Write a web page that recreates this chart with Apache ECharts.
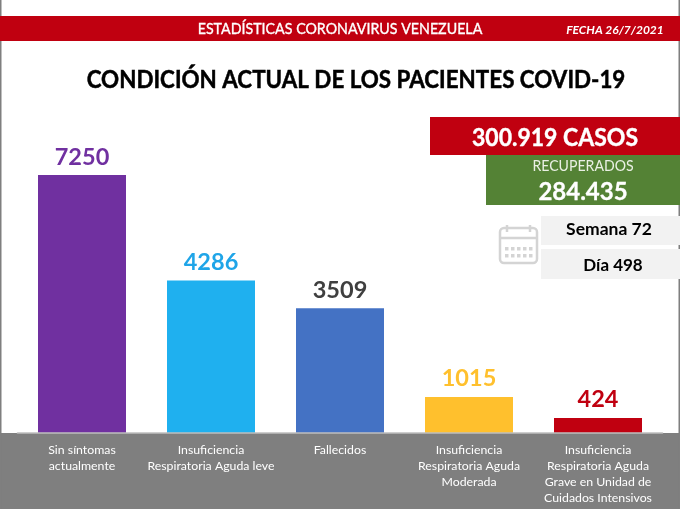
<!DOCTYPE html>
<html lang="es">
<head>
    <meta charset="UTF-8">
    <title>Condición actual de los pacientes COVID-19</title>
    <style>
      html, body { margin: 0; padding: 0; background: #fff; }
      #chart { width: 680px; height: 509px; }
    </style>
    <script src="https://cdn.jsdelivr.net/npm/echarts@6/dist/echarts.min.js"></script>
</head>
<body>
<div id="chart"></div>
<script>
  var categories = [
    'Sin síntomas\nactualmente',
    'Insuficiencia\nRespiratoria Aguda leve',
    'Fallecidos',
    'Insuficiencia\nRespiratoria Aguda\nModerada',
    'Insuficiencia\nRespiratoria Aguda\nGrave en Unidad de\nCuidados Intensivos'
  ];
  var patients = [7250, 4286, 3509, 1015, 424];

  var barColors = ['#7030a0', '#1fb0ef', '#4472c4', '#ffc02d', '#c00010'];
  var labelColors = ['#7030a0', '#1fa5e8', '#3f3f3f', '#ffc02d', '#c00010'];
  var FONT = 'Lato';

  var chart = echarts.init(document.getElementById('chart'));

  function box(x, y, w, h, color) {
    return { type: 'rect', z: -1, shape: { x: x, y: y, width: w, height: h }, style: { fill: color } };
  }
  // sx estrecha el texto, la fuente original es mas angosta
  function text(str, x, y, size, color, sx, weight, italic, stroke) {
    return {
      type: 'text', z: 5,
      x: x, y: y, scaleX: sx || 1,
      style: {
        text: str, x: 0, y: 0, fill: color, fontFamily: FONT, fontSize: size,
        fontWeight: weight || 'bold', fontStyle: italic ? 'italic' : 'normal',
        align: 'center', verticalAlign: 'middle',
        stroke: stroke ? color : null, lineWidth: stroke || 0
      }
    };
  }

  // icono del calendario
  var cal = '#d4d4d4';
  var calendar = [
    { type: 'rect', z: 2, shape: { x: 500, y: 228, width: 37, height: 35, r: 4 }, style: { fill: '#fff', stroke: cal, lineWidth: 2.5 } },
    { type: 'line', z: 2, shape: { x1: 500, y1: 238, x2: 537, y2: 238 }, style: { stroke: cal, lineWidth: 2.5 } },
    { type: 'line', z: 2, shape: { x1: 507, y1: 225, x2: 507, y2: 232 }, style: { stroke: cal, lineWidth: 2.5 } },
    { type: 'line', z: 2, shape: { x1: 530, y1: 225, x2: 530, y2: 232 }, style: { stroke: cal, lineWidth: 2.5 } }
  ];
  [505, 511, 517, 523, 529].forEach(function (x) {
    [247, 254].forEach(function (y) {
      var dot = box(x, y, 3.5, 3.5, cal);
      dot.z = 3;
      calendar.push(dot);
    });
  });

  var option = {
    animation: false,
    backgroundColor: '#fff',
    grid: { left: 17.5, width: 645, top: 175, height: 258 },
    xAxis: {
      type: 'category',
      z: 10,
      data: categories,
      axisTick: { show: false },
      axisLine: { lineStyle: { color: '#bfbfbf', width: 1.5 } },
      axisLabel: {
        interval: 0,
        color: '#ffffff',
        fontFamily: FONT,
        fontSize: 12.3,
        lineHeight: 16,
        margin: 9
      }
    },
    yAxis: { type: 'value', min: 0, max: 7250, show: false },
    series: [{
      type: 'bar',
      z: 3,
      barWidth: 88,
      data: patients.map(function (v, i) {
        return {
          value: v,
          itemStyle: { color: barColors[i] },
          label: { color: labelColors[i] }
        };
      }),
      label: {
        show: true,
        position: 'top',
        distance: 6,
        fontFamily: FONT,
        fontWeight: 'bold',
        fontSize: 23.5
      }
    }],
    graphic: { elements: [
      box(0, 433, 680, 76, '#7f7f7f'),
      box(0, 0, 1.5, 509, '#7f7f7f'),
      box(678.5, 0, 1.5, 509, '#7f7f7f'),
      box(0, 16, 680, 25, '#c00010'),
      text('ESTADÍSTICAS CORONAVIRUS VENEZUELA', 340, 29, 16, '#fff', 0.89, 'normal', false, 0.35),
      text('FECHA 26/7/2021', 615, 30, 12, '#fff', 1, 'bold', true),
      text('CONDICIÓN ACTUAL DE LOS PACIENTES COVID-19', 356, 80, 25, '#000', 0.895, 'bold', false, 0.5),
      box(430, 117, 250, 38, '#c00010'),
      text('300.919 CASOS', 555, 138, 25, '#fff', 0.92, 'bold', false, 0.4),
      box(486, 155, 194, 50, '#548235'),
      text('RECUPERADOS', 583, 166, 15, '#eaf0e4', 0.94, 'normal'),
      text('284.435', 583, 192, 24, '#fff', 1, 'bold', false, 0.3),
      box(541, 216, 139, 29, '#f2f2f2'),
      box(541, 249, 139, 30, '#f2f2f2'),
      text('Semana 72', 609, 229, 17.5, '#000'),
      text('Día 498', 613, 266, 17, '#000')
    ].concat(calendar) }
  };
  chart.setOption(option);
</script>
</body>
</html>
